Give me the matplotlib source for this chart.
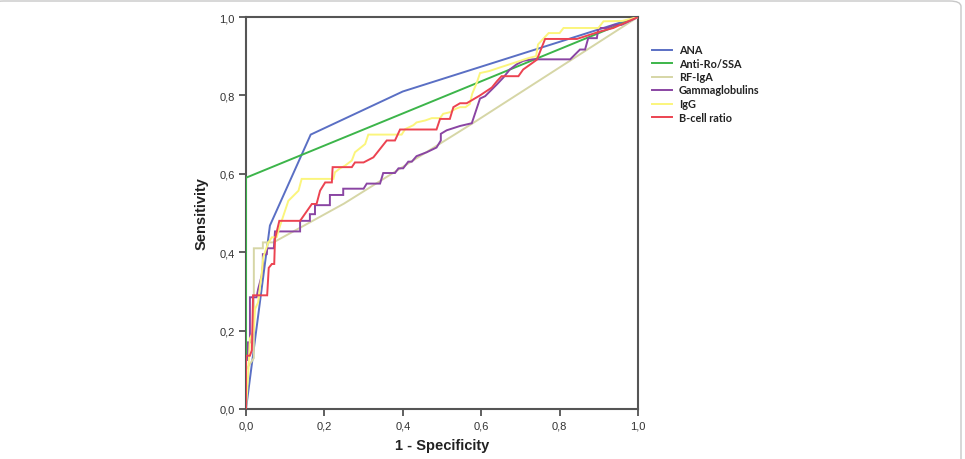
import matplotlib
matplotlib.use("Agg")
import matplotlib.pyplot as plt
from matplotlib.lines import Line2D
from matplotlib.patches import FancyBboxPatch

# ---------------- data ----------------
series_names = ["ANA", "Anti-Ro/SSA", "RF-IgA", "Gammaglobulins", "IgG", "B-cell ratio"]
series_colors = ["#5a6fc4", "#3cb54a", "#d6d6a6", "#8a45a3", "#fbf57c", "#ec4351"]

ana_x = [0.0, 0.061, 0.165, 0.40, 1.0]
ana_y = [0.0, 0.468, 0.700, 0.81, 1.0]

antiro_x = [0.0, 0.0, 1.0]
antiro_y = [0.0, 0.59, 1.0]

rfiga_x = [0.0, 0.0, 0.020, 0.020, 0.043, 0.043, 0.070, 0.25, 0.58, 1.0]
rfiga_y = [0.0, 0.10, 0.13, 0.41, 0.41, 0.425, 0.425, 0.524, 0.73, 1.0]

gamma_x = [0.0, 0.0, 0.005, 0.005, 0.010, 0.010, 0.027, 0.031, 0.040, 0.043, 0.043, 0.053,
           0.054, 0.071, 0.074, 0.138, 0.138, 0.163, 0.163, 0.176, 0.176, 0.214, 0.214,
           0.248, 0.248, 0.300, 0.308, 0.342, 0.350, 0.380, 0.389, 0.401, 0.414, 0.423,
           0.435, 0.461, 0.486, 0.497, 0.497, 0.512, 0.546, 0.576, 0.597, 0.610, 0.622,
           0.640, 0.656, 0.673, 0.690, 0.707, 0.729, 0.827, 0.852, 0.865, 0.873, 0.895,
           0.899, 0.920, 0.940, 0.958, 1.0]
gamma_y = [0.0, 0.125, 0.125, 0.170, 0.170, 0.285, 0.285, 0.306, 0.340, 0.366, 0.395, 0.395,
           0.410, 0.410, 0.453, 0.453, 0.480, 0.480, 0.497, 0.497, 0.520, 0.520, 0.546,
           0.546, 0.562, 0.562, 0.575, 0.575, 0.602, 0.602, 0.614, 0.614, 0.631, 0.631,
           0.645, 0.655, 0.667, 0.685, 0.702, 0.711, 0.722, 0.729, 0.792, 0.798, 0.810,
           0.828, 0.845, 0.866, 0.879, 0.888, 0.892, 0.892, 0.917, 0.917, 0.946, 0.946,
           0.972, 0.972, 0.980, 0.980, 1.0]

igg_x = [0.0, 0.005, 0.010, 0.020, 0.023, 0.031, 0.036, 0.040, 0.044, 0.051, 0.057, 0.066,
         0.078, 0.087, 0.104, 0.108, 0.121, 0.134, 0.142, 0.223, 0.227, 0.240, 0.253, 0.270,
         0.278, 0.304, 0.312, 0.397, 0.406, 0.427, 0.435, 0.457, 0.474, 0.495, 0.503, 0.520,
         0.533, 0.546, 0.560, 0.571, 0.577, 0.589, 0.597, 0.620, 0.650, 0.690, 0.720, 0.740,
         0.745, 0.772, 0.800, 0.810, 0.899, 0.912, 0.960, 1.0]
igg_y = [0.0, 0.080, 0.180, 0.200, 0.255, 0.272, 0.315, 0.344, 0.387, 0.408, 0.425, 0.438,
         0.438, 0.468, 0.519, 0.531, 0.544, 0.557, 0.587, 0.587, 0.604, 0.614, 0.621, 0.634,
         0.655, 0.676, 0.700, 0.700, 0.714, 0.724, 0.731, 0.736, 0.742, 0.742, 0.753, 0.757,
         0.765, 0.770, 0.770, 0.778, 0.804, 0.833, 0.857, 0.862, 0.872, 0.885, 0.895, 0.900,
         0.930, 0.959, 0.959, 0.972, 0.972, 0.989, 0.990, 1.0]

bcell_x = [0.0, 0.0, 0.010, 0.015, 0.018, 0.054, 0.058, 0.066, 0.072, 0.074, 0.085, 0.138,
           0.168, 0.180, 0.189, 0.202, 0.219, 0.221, 0.270, 0.278, 0.300, 0.325, 0.359,
           0.380, 0.393, 0.486, 0.495, 0.520, 0.529, 0.546, 0.563, 0.597, 0.627, 0.640,
           0.652, 0.695, 0.707, 0.742, 0.763, 0.844, 0.903, 0.937, 1.0]
bcell_y = [0.0, 0.136, 0.136, 0.150, 0.290, 0.290, 0.360, 0.370, 0.370, 0.434, 0.480, 0.480,
           0.523, 0.523, 0.557, 0.578, 0.578, 0.617, 0.617, 0.629, 0.629, 0.642, 0.685,
           0.685, 0.713, 0.713, 0.740, 0.740, 0.770, 0.780, 0.780, 0.800, 0.820, 0.836,
           0.849, 0.849, 0.866, 0.891, 0.944, 0.944, 0.963, 0.972, 1.0]

series_x = [ana_x, antiro_x, rfiga_x, gamma_x, igg_x, bcell_x]
series_y = [ana_y, antiro_y, rfiga_y, gamma_y, igg_y, bcell_y]

x_ticks = [0.0, 0.2, 0.4, 0.6, 0.8, 1.0]
y_ticks = [0.0, 0.2, 0.4, 0.6, 0.8, 1.0]
tick_labels = ["0,0", "0,2", "0,4", "0,6", "0,8", "1,0"]

# ---------------- figure ----------------
W, H = 965, 460
fig = plt.figure(figsize=(W / 100, H / 100), dpi=100)
fig.patch.set_facecolor("white")

# light rounded frame around the figure (bottom and left run off the image)
frame = FancyBboxPatch((-8 / W, -40 / H), (969 / W), (498 / H),
                       boxstyle="round,pad=0,rounding_size=0.012",
                       transform=fig.transFigure, fill=False,
                       edgecolor="#c8c8c8", linewidth=1.0)
fig.add_artist(frame)

ax = fig.add_axes([246 / W, 50 / H, 392 / W, 392 / H])

draw_order = [2, 1, 0, 4, 3, 5]
for i in draw_order:
    ax.plot(series_x[i], series_y[i], color=series_colors[i], lw=1.4,
            solid_joinstyle="miter", zorder=3 + i * 0.1)

ax.set_xlim(0, 1)
ax.set_ylim(0, 1)
ax.set_xticks(x_ticks)
ax.set_yticks(y_ticks)
ax.set_xticklabels(tick_labels, family="Liberation Sans", fontsize=8, color="#333333")
ax.set_yticklabels(tick_labels, family="Liberation Sans", fontsize=8, color="#333333")
ax.tick_params(direction="out", length=5, width=1.2, color="#444444", pad=3)
for sp in ax.spines.values():
    sp.set_color("#555555")
    sp.set_linewidth(1.5)

ax.set_xlabel("1 - Specificity", family="Liberation Sans", fontweight="bold",
              fontsize=10.5, color="#222222", labelpad=6)
ax.set_ylabel("Sensitivity", family="Liberation Sans", fontweight="bold",
              fontsize=10.5, color="#222222", labelpad=8)

# legend (manual, to match spacing)
row_y = [50.5, 64.0, 77.5, 91.0, 104.5, 118.0]
for i, name in enumerate(series_names):
    yf = 1 - row_y[i] / H
    fig.add_artist(Line2D([652 / W, 672 / W], [yf, yf], transform=fig.transFigure,
                          color=series_colors[i], lw=1.4))
    fig.text(679 / W, yf, name, family="Lato", fontsize=7.8, color="#222222",
             va="center", ha="left", fontweight="bold")

fig.savefig("out.png", dpi=100, facecolor="white")
